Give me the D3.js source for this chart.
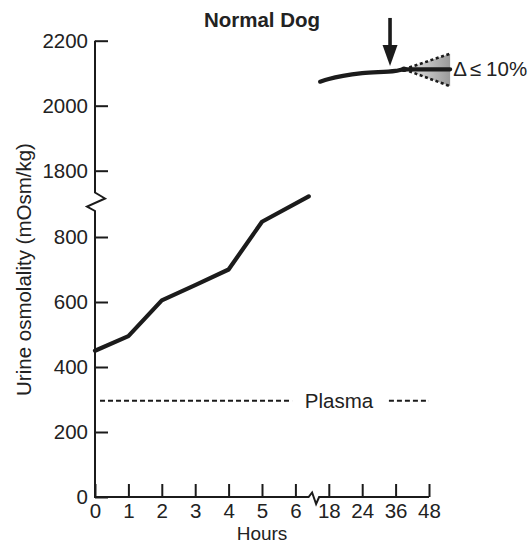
<!DOCTYPE html>
<html>
<head>
<meta charset="utf-8">
<script src="https://cdn.jsdelivr.net/npm/d3@7"></script>
<style>
  html, body { margin: 0; padding: 0; background: #fff; }
  svg { display: block; }
  text { font-family: "Liberation Sans", Arial, Helvetica, sans-serif; fill: #222; }
</style>
</head>
<body>
<svg id="chart" width="529" height="544"></svg>
<script>
// Early phase of water deprivation (hours 0-6.4)
const earlyHours = [0, 1, 2, 3, 4, 5, 6.4];
const earlyOsm = [450, 495, 605, 652, 700, 847, 925];

// Late phase (after the axis break)
const lateHours = [12, 18, 24, 36, 39, 55.6];
const lateOsm = [2074, 2082, 2100, 2107, 2112, 2112];

// Plateau band: change of at most 10%
const bandHours = [39, 55.6];
const bandHigh = [2112, 2160];
const bandLow = [2112, 2060];

// Arrow marking the plateau
const arrowHour = 34;
const arrowOsm = [2270, 2122];

// Plasma reference (drawn in two pieces around its label)
const plasmaOsm = 296;
const plasmaLeftHours = [0.15, 5.9];
const plasmaRightHours = [33.6, 48];

// Axis ticks
const xTickHours = [0, 1, 2, 3, 4, 5, 6, 18, 24, 36, 48];
const yLowTicks = [0, 200, 400, 600, 800];
const yHighTicks = [1800, 2000, 2200];

const svg = d3.select("#chart");
const ink = "#1b1b1b";
const FS = 20.5;

// Broken time axis: even spacing for 0..6 h, then one slot per late time point
const X0 = 95, STEP = 33.4;
const x = d3.scaleLinear()
  .domain([0, 6.5, 18, 24, 36, 48])
  .range([X0, X0 + 6.5 * STEP, X0 + 7 * STEP, X0 + 8 * STEP, X0 + 9 * STEP, X0 + 10 * STEP]);

// Broken osmolality axis: lower and upper segments
const yLow = d3.scaleLinear().domain([0, 800]).range([497, 237]);
const yHigh = d3.scaleLinear().domain([1800, 2200]).range([170.7, 40.7]);

// Title
svg.append("text")
  .attr("x", 262).attr("y", 27)
  .attr("text-anchor", "middle")
  .style("font-size", "20.5px").style("font-weight", "bold")
  .text("Normal Dog");

// Y axis ticks and labels
function yAxisGroup(scale, ticks) {
  const g = svg.append("g").attr("transform", `translate(${X0},0)`)
    .call(d3.axisLeft(scale).tickValues(ticks).tickSize(-13).tickPadding(7).tickFormat(d3.format("d")));
  g.select(".domain").remove();
  g.selectAll(".tick line").attr("stroke", ink).attr("stroke-width", 2);
  g.selectAll(".tick text").style("font-size", FS + "px").attr("fill", "#222")
    .style("font-family", "Liberation Sans, Arial, sans-serif");
  return g;
}
yAxisGroup(yLow, yLowTicks);
yAxisGroup(yHigh, yHighTicks);

// Y axis spine with break zigzag
const yBreakTop = 192.5;
svg.append("path")
  .attr("d", d3.line()([
    [X0, yHigh(2200)], [X0, yBreakTop], [X0 + 10, yBreakTop + 6],
    [X0 - 8, yBreakTop + 14], [X0, yBreakTop + 18.5], [X0, yLow(0)]
  ]))
  .attr("fill", "none").attr("stroke", ink).attr("stroke-width", 2)
  .attr("stroke-linejoin", "miter");

// X axis ticks and labels
const gx = svg.append("g").attr("transform", `translate(0,${yLow(0)})`)
  .call(d3.axisBottom(x).tickValues(xTickHours).tickSize(-13).tickPadding(6.5).tickFormat(d3.format("d")));
gx.select(".domain").remove();
gx.selectAll(".tick line").attr("stroke", ink).attr("stroke-width", 2);
gx.selectAll(".tick text").style("font-size", FS + "px").attr("fill", "#222")
  .style("font-family", "Liberation Sans, Arial, sans-serif");

// X axis spine with break zigzag
const xb = x(6.5);
const y0 = yLow(0);
svg.append("path")
  .attr("d", d3.line()([
    [X0 - 1, y0], [xb - 3.5, y0], [xb, y0 - 4.5], [xb + 4, y0 + 7], [xb + 7, y0], [x(48), y0]
  ]))
  .attr("fill", "none").attr("stroke", ink).attr("stroke-width", 2);

// Axis titles
svg.append("text")
  .attr("x", 262).attr("y", 539.8)
  .attr("text-anchor", "middle")
  .style("font-size", "19px")
  .text("Hours");

svg.append("text")
  .attr("transform", "translate(30.5,269.5) rotate(-90)")
  .attr("text-anchor", "middle")
  .style("font-size", FS + "px")
  .text("Urine osmolality (mOsm/kg)");

// Plasma dashed reference with label
const yp = yLow(plasmaOsm);
[plasmaLeftHours, plasmaRightHours].forEach(h => {
  svg.append("line")
    .attr("x1", x(h[0])).attr("x2", x(h[1])).attr("y1", yp).attr("y2", yp)
    .attr("stroke", ink).attr("stroke-width", 2).attr("stroke-dasharray", "5,3");
});
svg.append("text")
  .attr("x", 339).attr("y", yp + 7.5)
  .attr("text-anchor", "middle")
  .style("font-size", FS + "px")
  .text("Plasma");

// Early-phase line
const earlyLine = d3.line().x((d, i) => x(earlyHours[i])).y(d => yLow(d));
svg.append("path")
  .attr("d", earlyLine(earlyOsm))
  .attr("fill", "none").attr("stroke", ink).attr("stroke-width", 4.2)
  .attr("stroke-linejoin", "round").attr("stroke-linecap", "round");

// Plateau band (shaded cone)
const defs = svg.append("defs");
const grad = defs.append("linearGradient").attr("id", "bandFill")
  .attr("x1", "0%").attr("x2", "100%").attr("y1", "0%").attr("y2", "0%");
grad.append("stop").attr("offset", "0%").attr("stop-color", "#ececec");
grad.append("stop").attr("offset", "100%").attr("stop-color", "#9a9a9a");

const bandArea = d3.area()
  .x((d, i) => x(bandHours[i]))
  .y0((d, i) => yHigh(bandLow[i]))
  .y1(d => yHigh(d));
svg.append("path")
  .attr("d", bandArea(bandHigh))
  .attr("fill", "url(#bandFill)");

const bandEdge = d3.line().x((d, i) => x(bandHours[i])).y(d => yHigh(d));
[bandHigh, bandLow].forEach(arr => {
  svg.append("path")
    .attr("d", bandEdge(arr))
    .attr("fill", "none").attr("stroke", ink).attr("stroke-width", 2.6)
    .attr("stroke-dasharray", "3,2.6");
});

// Late-phase line
const lateLine = d3.line().x((d, i) => x(lateHours[i])).y(d => yHigh(d)).curve(d3.curveMonotoneX);
svg.append("path")
  .attr("d", lateLine(lateOsm))
  .attr("fill", "none").attr("stroke", ink).attr("stroke-width", 4.2)
  .attr("stroke-linecap", "round");
svg.append("circle")
  .attr("cx", x(bandHours[0])).attr("cy", yHigh(bandHigh[0]))
  .attr("r", 2.8).attr("fill", ink);

// Arrow
const ax = x(arrowHour);
const aTop = yHigh(arrowOsm[0]);
const aTip = yHigh(arrowOsm[1]);
svg.append("line")
  .attr("x1", ax).attr("x2", ax).attr("y1", aTop).attr("y2", aTip - 14)
  .attr("stroke", ink).attr("stroke-width", 3.6);
svg.append("path")
  .attr("d", d3.line()([[ax - 7.5, aTip - 21], [ax + 7.5, aTip - 21], [ax, aTip]]) + "Z")
  .attr("fill", ink);

// Band label
const dl = svg.append("text")
  .attr("x", x(bandHours[1]) + 3).attr("y", yHigh(lateOsm[lateOsm.length - 1]) + 6.5)
  .style("font-size", FS + "px");
dl.append("tspan").text("\u0394");
dl.append("tspan").attr("dx", 3).text("\u2264");
dl.append("tspan").attr("dx", 5).text("10%");
</script>
</body>
</html>
